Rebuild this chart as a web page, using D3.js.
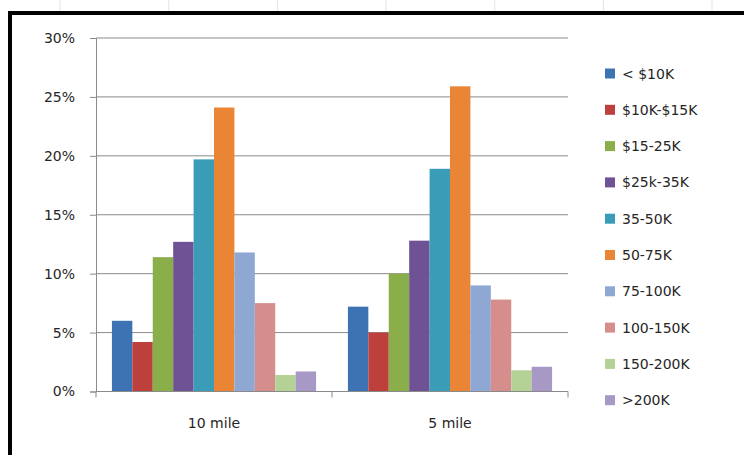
<!DOCTYPE html>
<html>
<head>
<meta charset="utf-8">
<script src="https://cdn.jsdelivr.net/npm/d3@7"></script>
<style>
  body { margin: 0; background: #fff; }
  text { font-family: "DejaVu Sans", sans-serif; fill: #262626; }
</style>
</head>
<body>
<div id="app"></div>
<script>
// data (percent)
const categories = ['10 mile', '5 mile'];
const series = ['< $10K', '$10K-$15K', '$15-25K', '$25k-35K', '35-50K',
  '50-75K', '75-100K', '100-150K', '150-200K', '>200K'];
const tenMile = [6.0, 4.2, 11.4, 12.7, 19.7, 24.1, 11.8, 7.5, 1.4, 1.7];
const fiveMile = [7.2, 5.0, 10.0, 12.8, 18.9, 25.9, 9.0, 7.8, 1.8, 2.1];
const yTicks = [0, 5, 10, 15, 20, 25, 30];
const colors = ['#3d72b3', '#bd403c', '#8aae4a', '#6f5296', '#3a9cb7',
  '#ea8535', '#8ea7d3', '#d68e8c', '#b5d296', '#a898c6'];

const W = 744, H = 455;
const plot = { left: 96, right: 568, top: 38, bottom: 391.5 };

const svg = d3.select('#app')
  .append('svg')
  .attr('width', W)
  .attr('height', H);

// faint spreadsheet cells behind the chart frame
const cellX = [60, 168.7, 277.4, 386, 494.7, 603.4, 712];
svg.selectAll('line.cell')
  .data(cellX)
  .enter()
  .append('line')
  .attr('x1', d => d).attr('x2', d => d)
  .attr('y1', 0).attr('y2', 12)
  .attr('stroke', '#e4e4e4');

// frame
svg.append('rect')
  .attr('x', 10).attr('y', 13)
  .attr('width', W + 20).attr('height', H + 20)
  .attr('fill', '#fff')
  .attr('stroke', '#000')
  .attr('stroke-width', 4);

// scales
let x0 = d3.scaleBand()
  .domain(categories)
  .range([plot.left, plot.right]);

let x1 = d3.scaleBand()
  .domain(series)
  .range([0, x0.bandwidth()])
  .paddingOuter(0.78);

let yScale = d3.scaleLinear()
  .domain([0, 30])
  .range([plot.bottom, plot.top]);

// gridlines
svg.append('g')
  .selectAll('line')
  .data(yTicks.filter(d => d > 0))
  .enter()
  .append('line')
  .attr('x1', plot.left).attr('x2', plot.right)
  .attr('y1', d => yScale(d)).attr('y2', d => yScale(d))
  .attr('stroke', '#8a8a8a')
  .attr('stroke-width', 1);

// y axis
const yAxis = svg.append('g')
  .attr('transform', `translate(${plot.left},0)`)
  .call(d3.axisLeft(yScale).tickValues(yTicks).tickSize(6).tickPadding(15)
    .tickFormat(d => d + '%'));
yAxis.select('.domain').attr('stroke', '#8a8a8a');
yAxis.selectAll('.tick line').attr('stroke', '#8a8a8a');
yAxis.selectAll('.tick text').style('font-size', '14px').attr('fill', '#262626');

// bars
const rows = categories.map((c, i) => ({ cat: c, vals: [tenMile, fiveMile][i] }));
const groups = svg.selectAll('g.grp')
  .data(rows)
  .enter()
  .append('g')
  .attr('class', 'grp')
  .attr('transform', d => `translate(${x0(d.cat)},0)`);

groups.selectAll('rect')
  .data(d => d.vals.map((v, j) => ({ key: series[j], v: v, j: j })))
  .enter()
  .append('rect')
  .attr('x', d => x1(d.key))
  .attr('width', x1.bandwidth())
  .attr('y', d => yScale(d.v))
  .attr('height', d => yScale(0) - yScale(d.v))
  .attr('fill', d => colors[d.j]);

// category axis
const xAxis = svg.append('g')
  .attr('transform', `translate(0,${plot.bottom})`);
xAxis.append('line')
  .attr('x1', plot.left).attr('x2', plot.right)
  .attr('stroke', '#8a8a8a');
xAxis.selectAll('line.tk')
  .data([plot.left, x0(categories[1]), plot.right])
  .enter()
  .append('line')
  .attr('x1', d => d).attr('x2', d => d)
  .attr('y1', 0).attr('y2', 6)
  .attr('stroke', '#8a8a8a');
xAxis.selectAll('text')
  .data(categories)
  .enter()
  .append('text')
  .attr('x', d => x0(d) + x0.bandwidth() / 2)
  .attr('y', 36)
  .attr('text-anchor', 'middle')
  .style('font-size', '14px')
  .text(d => d);

// legend
const legend = svg.append('g')
  .attr('transform', 'translate(605,73.5)');
const item = legend.selectAll('g')
  .data(series)
  .enter()
  .append('g')
  .attr('transform', (d, i) => `translate(0,${i * 36.3})`);
item.append('rect')
  .attr('x', 0).attr('y', -5)
  .attr('width', 10).attr('height', 10)
  .attr('fill', (d, i) => colors[i]);
item.append('text')
  .attr('x', 17)
  .attr('dy', '0.36em')
  .style('font-size', '14px')
  .text(d => d);
</script>
</body>
</html>
